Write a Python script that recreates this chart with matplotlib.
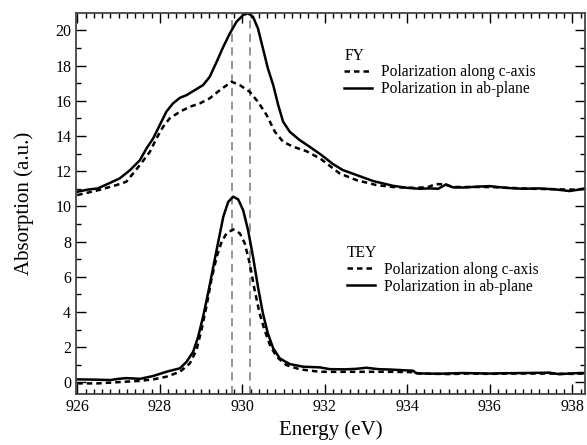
import numpy as np
import matplotlib
matplotlib.use('Agg')
import matplotlib.pyplot as plt
from matplotlib.ticker import MultipleLocator

plt.rcParams['font.family'] = ['Liberation Serif', 'DejaVu Serif']

# FY, polarization in ab-plane (solid)
fy_ab_E = [926.0, 926.25, 926.5, 926.8, 927.03, 927.28, 927.52, 927.68, 927.84, 928.0,
           928.16, 928.32, 928.49, 928.65, 928.81, 929.05, 929.21, 929.38, 929.54, 929.7,
           929.86, 930.02, 930.14, 930.26, 930.38, 930.5, 930.62, 930.75, 930.87, 930.99,
           931.15, 931.39, 931.63, 931.9, 932.2, 932.44, 932.77, 933.17, 933.65, 934.0,
           934.3, 934.55, 934.75, 934.94, 935.1, 935.35, 935.7, 935.99, 936.4, 936.8,
           937.2, 937.6, 937.93, 938.3]
fy_ab = [10.83, 10.95, 11.02, 11.34, 11.59, 12.06, 12.63, 13.3, 13.86, 14.62,
         15.38, 15.85, 16.17, 16.32, 16.55, 16.89, 17.36, 18.22, 19.07, 19.83,
         20.49, 20.87, 20.97, 20.77, 20.11, 18.98, 17.84, 16.89, 15.76, 14.81,
         14.24, 13.77, 13.39, 12.95, 12.4, 12.06, 11.78, 11.44, 11.17, 11.05,
         11.0, 11.02, 11.0, 11.25, 11.08, 11.07, 11.12, 11.15, 11.05, 11.0,
         11.02, 10.96, 10.87, 11.0]

# FY, polarization along c-axis (dashed)
fy_c_E = [926.0, 926.53, 926.95, 927.19, 927.52, 927.76, 927.92, 928.08, 928.24, 928.49,
          928.73, 928.97, 929.21, 929.46, 929.74, 929.94, 930.18, 930.38, 930.59, 930.79,
          930.99, 931.23, 931.55, 931.9, 932.36, 932.77, 933.25, 933.73, 934.2, 934.5,
          934.7, 934.9, 935.1, 935.5, 936.0, 936.5, 937.0, 937.5, 938.0, 938.3]
fy_c = [10.64, 10.93, 11.21, 11.4, 12.35, 13.1, 13.86, 14.52, 15.0, 15.38,
        15.66, 15.85, 16.14, 16.61, 17.08, 16.89, 16.51, 15.94, 15.19, 14.24,
        13.67, 13.39, 13.14, 12.7, 11.87, 11.49, 11.21, 11.08, 11.05, 11.1,
        11.27, 11.25, 11.1, 11.1, 11.1, 11.05, 11.0, 10.98, 10.95, 11.0]

# TEY, polarization in ab-plane (solid)
tey_ab_E = [926.0, 926.5, 926.8, 927.0, 927.19, 927.52, 927.84, 928.16, 928.49, 928.65,
            928.81, 928.93, 929.05, 929.17, 929.29, 929.41, 929.54, 929.66, 929.78, 929.9,
            930.02, 930.14, 930.26, 930.38, 930.5, 930.62, 930.75, 930.91, 931.15, 931.47,
            931.88, 932.12, 932.5, 932.77, 933.0, 933.3, 933.57, 934.14, 934.22, 934.78,
            935.35, 935.99, 936.4, 936.8, 937.45, 937.69, 937.9, 938.17, 938.3]
tey_ab = [0.17, 0.15, 0.13, 0.2, 0.24, 0.2, 0.36, 0.6, 0.8, 1.17,
          1.74, 2.59, 3.73, 5.06, 6.48, 7.9, 9.41, 10.26, 10.55, 10.4,
          9.79, 8.65, 7.14, 5.43, 3.92, 2.78, 1.93, 1.36, 1.04, 0.89,
          0.85, 0.75, 0.74, 0.77, 0.83, 0.75, 0.73, 0.66, 0.51, 0.49,
          0.53, 0.5, 0.52, 0.53, 0.55, 0.46, 0.5, 0.53, 0.53]

# TEY, polarization along c-axis (dashed)
tey_c_E = [926.0, 926.5, 927.19, 927.5, 927.84, 928.16, 928.49, 928.73, 928.89, 929.01,
           929.13, 929.25, 929.38, 929.5, 929.62, 929.78, 929.94, 930.06, 930.18, 930.3,
           930.42, 930.54, 930.67, 930.83, 931.07, 931.39, 931.88, 932.12, 932.77, 933.57,
           934.14, 934.3, 935.0, 935.5, 936.0, 936.5, 937.0, 937.5, 938.0, 938.3]
tey_c = [-0.06, -0.06, 0.04, 0.08, 0.17, 0.32, 0.6, 1.08, 1.84, 2.97,
         4.3, 5.81, 7.14, 7.99, 8.47, 8.69, 8.47, 7.9, 6.76, 5.24,
         3.92, 2.97, 2.12, 1.46, 0.98, 0.74, 0.6, 0.6, 0.6, 0.6,
         0.58, 0.5, 0.47, 0.5, 0.48, 0.5, 0.5, 0.5, 0.48, 0.5]

# reference energies (grey dashed lines)
ref_E = [929.75, 930.18]

fig = plt.figure(figsize=(5.87, 4.45), dpi=100)
ax = fig.add_axes([0.1295, 0.1139, 0.8666, 0.8562])

dash = (0, (2.2, 1.6))
for e in ref_E:
    ax.axvline(e, color='#8c8c8c', lw=1.3, linestyle=(0, (4.5, 3)), zorder=1)

l1, = ax.plot(fy_c_E, fy_c, color='black', lw=1.8, linestyle=dash)
l2, = ax.plot(fy_ab_E, fy_ab, color='black', lw=1.8)
l3, = ax.plot(tey_c_E, tey_c, color='black', lw=1.8, linestyle=dash)
l4, = ax.plot(tey_ab_E, tey_ab, color='black', lw=1.8)

ax.set_xlim(925.97, 938.3)
ax.set_ylim(-0.68, 20.97)

ax.xaxis.set_major_locator(MultipleLocator(2))
ax.xaxis.set_minor_locator(MultipleLocator(0.2))
ax.yaxis.set_major_locator(MultipleLocator(2))
ax.yaxis.set_minor_locator(MultipleLocator(1))
ax.tick_params(which='both', direction='in', top=True, right=True, labelsize=11.5)
ax.tick_params(which='major', length=7, width=1)
ax.tick_params(which='minor', length=3.5, width=1)
for s in ax.spines.values():
    s.set_linewidth(1.3)
    s.set_color('#444444')

ax.set_xlabel('Energy (eV)', fontsize=15)
ax.set_ylabel('Absorption (a.u.)', fontsize=15)
ax.yaxis.set_label_coords(-0.083, 0.5)

lab_c = 'Polarization along c-axis'
lab_ab = 'Polarization in ab-plane'
leg1 = ax.legend([l1, l2], [lab_c, lab_ab], title='FY', loc='upper left',
                 bbox_to_anchor=(0.527, 0.91), frameon=False, fontsize=11.2,
                 title_fontsize=11.2, handlelength=1.8, handletextpad=0.6,
                 labelspacing=0.05, borderpad=0, borderaxespad=0)
leg1._legend_box.align = 'left'
ax.add_artist(leg1)
leg2 = ax.legend([l3, l4], [lab_c, lab_ab], title='TEY', loc='upper left',
                 bbox_to_anchor=(0.533, 0.392), frameon=False, fontsize=11.2,
                 title_fontsize=11.2, handlelength=1.8, handletextpad=0.6,
                 labelspacing=0.05, borderpad=0, borderaxespad=0)
leg2._legend_box.align = 'left'

fig.savefig('out.png', dpi=100)
